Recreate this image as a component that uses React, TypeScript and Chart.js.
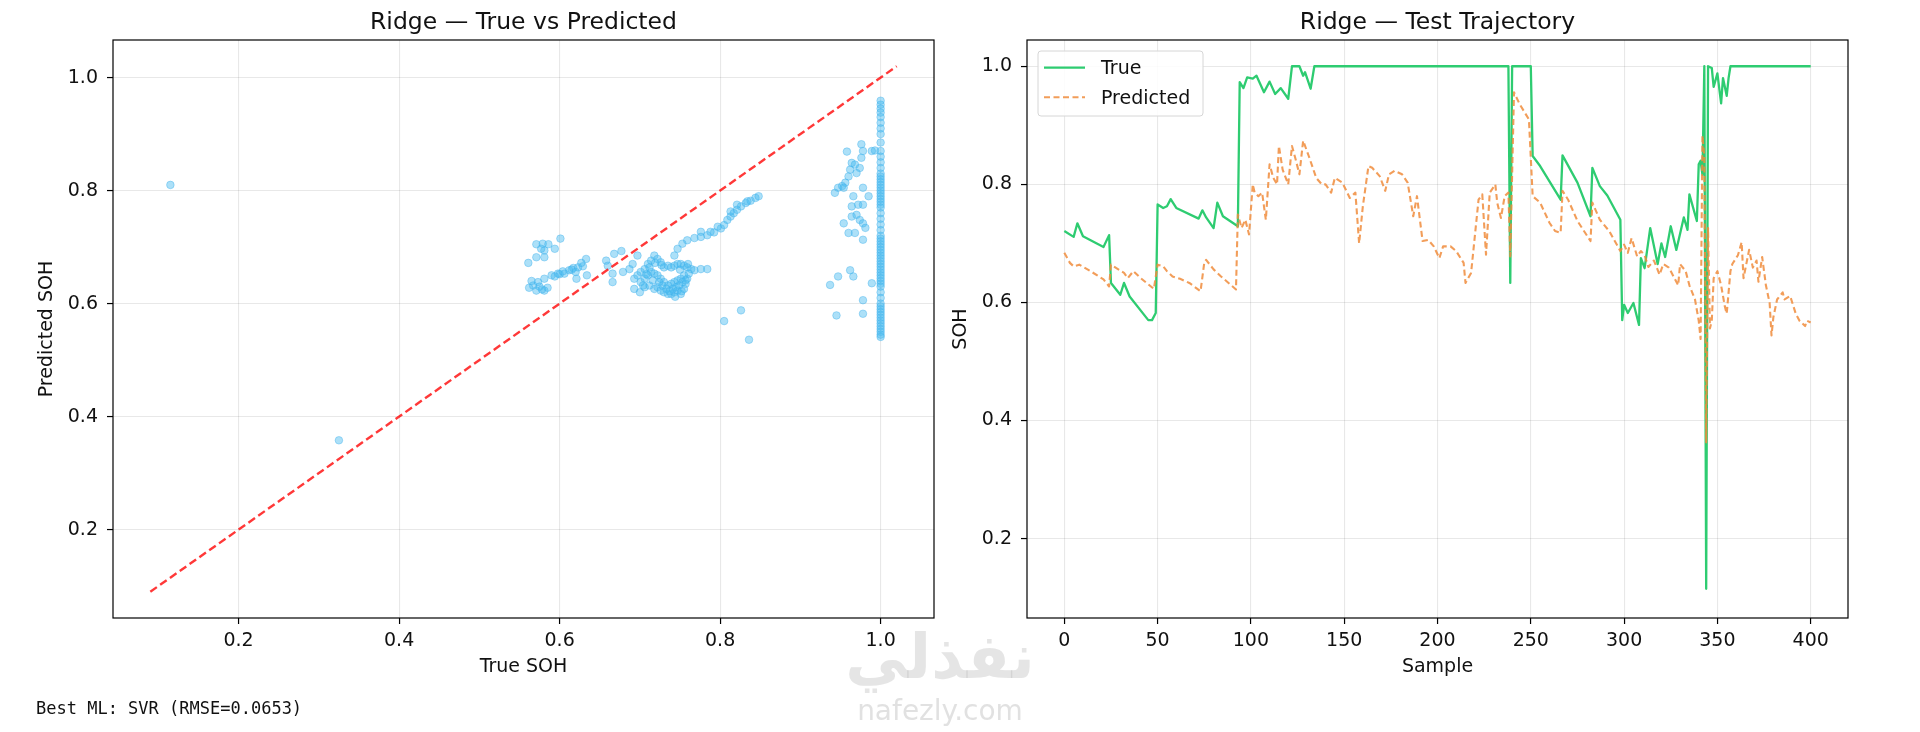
import React, { useEffect, useRef } from "react";
import { Chart, registerables } from "chart.js";

Chart.register(...registerables);

// ---------------- DATA ----------------
// Left panel: True SOH vs Predicted SOH (Ridge)
const scatterTrue: number[] = [
  0.115, 0.325,
  0.571, 0.579, 0.586, 0.594, 0.601, 0.581, 0.571, 0.581, 0.561, 0.577,
  0.567, 0.571, 0.581, 0.573, 0.581, 0.59, 0.598, 0.606, 0.612, 0.617, 0.623, 0.629, 0.633, 0.621, 0.634, 0.575, 0.585, 0.562, 0.6, 0.615,
  0.565, 0.578, 0.594, 0.604, 0.627, 0.62,
  0.658, 0.668, 0.677, 0.666, 0.666, 0.679, 0.687, 0.691, 0.697, 0.66,
  0.693, 0.693, 0.697, 0.701, 0.706, 0.71, 0.714, 0.718, 0.722, 0.726, 0.73, 0.735, 0.739, 0.743, 0.747, 0.751, 0.755, 0.759, 0.764, 0.768, 0.776, 0.784,
  0.706, 0.712, 0.718, 0.722, 0.726, 0.73, 0.735, 0.739, 0.743, 0.747, 0.751, 0.755, 0.757, 0.759, 0.761, 0.755, 0.751, 0.747, 0.743, 0.739, 0.735, 0.73, 0.726, 0.722, 0.718, 0.714, 0.71, 0.706, 0.701,
  0.741, 0.745, 0.749, 0.753, 0.757, 0.733, 0.737, 0.728, 0.724, 0.716, 0.708, 0.704, 0.75, 0.76, 0.727, 0.719, 0.712, 0.7, 0.744, 0.752,
  0.743, 0.747, 0.753, 0.759,
  0.768, 0.776, 0.784, 0.7925, 0.801, 0.805, 0.809, 0.813, 0.817, 0.821, 0.826, 0.832, 0.838, 0.844, 0.848, 0.776, 0.788, 0.797, 0.813, 0.821, 0.834,
  0.805, 0.826, 0.836,
  0.958, 0.964, 0.968, 0.962, 0.96, 0.956, 0.952, 0.947, 0.943, 0.954, 0.976, 0.978, 0.976, 0.974, 0.97, 0.989, 0.993, 0.978, 0.985, 0.966,
  0.964, 0.972, 0.978, 0.964, 0.97, 0.974, 0.978, 0.981, 0.954, 0.96, 0.968, 0.978, 0.962, 0.966, 0.947, 0.937, 0.989, 0.978, 0.945, 0.978,
  1.0, 1.0, 1.0, 1.0, 1.0, 1.0, 1.0, 1.0, 1.0, 1.0, 1.0, 1.0, 1.0, 1.0, 1.0, 1.0,
  1.0, 1.0, 1.0, 1.0, 1.0, 1.0, 1.0, 1.0, 1.0, 1.0, 1.0, 1.0, 1.0, 1.0, 1.0, 1.0,
  1.0, 1.0, 1.0, 1.0, 1.0, 1.0, 1.0, 1.0, 1.0, 1.0, 1.0, 1.0, 1.0, 1.0, 1.0, 1.0,
  1.0, 1.0, 1.0, 1.0, 1.0, 1.0, 1.0, 1.0, 1.0, 1.0, 1.0, 1.0, 1.0, 1.0, 1.0, 1.0,
];
const scatterPred: number[] = [
  0.81, 0.358,
  0.705, 0.706, 0.705, 0.697, 0.715, 0.694, 0.682, 0.682, 0.672, 0.697,
  0.632, 0.623, 0.623, 0.638, 0.644, 0.65, 0.653, 0.653, 0.659, 0.663, 0.664, 0.666, 0.679, 0.644, 0.65, 0.63, 0.628, 0.628, 0.652, 0.66,
  0.64, 0.625, 0.648, 0.657, 0.672, 0.656,
  0.676, 0.688, 0.693, 0.653, 0.638, 0.656, 0.661, 0.67, 0.685, 0.667,
  0.644, 0.626, 0.65, 0.656, 0.661, 0.67, 0.676, 0.685, 0.679, 0.673, 0.664, 0.667, 0.664, 0.667, 0.67, 0.67, 0.667, 0.664, 0.661, 0.659, 0.661, 0.661,
  0.629, 0.632, 0.626, 0.629, 0.623, 0.62, 0.617, 0.617, 0.62, 0.623, 0.617, 0.626, 0.635, 0.644, 0.653, 0.65, 0.644, 0.641, 0.638, 0.635, 0.632, 0.638, 0.644, 0.65, 0.653, 0.656, 0.65, 0.644, 0.638,
  0.626, 0.629, 0.632, 0.638, 0.641, 0.626, 0.622, 0.632, 0.638, 0.641, 0.652, 0.632, 0.66, 0.67, 0.668, 0.672, 0.664, 0.62, 0.612, 0.622,
  0.685, 0.697, 0.706, 0.712,
  0.716, 0.718, 0.721, 0.726, 0.733, 0.739, 0.748, 0.754, 0.76, 0.766, 0.772, 0.778, 0.782, 0.787, 0.79, 0.727, 0.727, 0.736, 0.763, 0.775, 0.781,
  0.569, 0.588, 0.536,
  0.869, 0.849, 0.846, 0.837, 0.825, 0.814, 0.808, 0.805, 0.796, 0.805, 0.882, 0.87, 0.858, 0.84, 0.831, 0.87, 0.871, 0.805, 0.79, 0.79,
  0.772, 0.775, 0.775, 0.754, 0.757, 0.748, 0.742, 0.734, 0.742, 0.725, 0.725, 0.713, 0.659, 0.648, 0.648, 0.633, 0.636, 0.606, 0.579, 0.582,
  0.959, 0.952, 0.945, 0.938, 0.93, 0.92, 0.91, 0.9, 0.885, 0.87, 0.86, 0.85, 0.84, 0.83, 0.825, 0.82,
  0.815, 0.81, 0.805, 0.8, 0.795, 0.79, 0.785, 0.78, 0.775, 0.77, 0.76, 0.75, 0.74, 0.73, 0.72, 0.715,
  0.71, 0.705, 0.7, 0.695, 0.69, 0.685, 0.68, 0.675, 0.67, 0.665, 0.66, 0.655, 0.65, 0.645, 0.64, 0.635,
  0.63, 0.62, 0.61, 0.6, 0.595, 0.59, 0.585, 0.58, 0.575, 0.57, 0.565, 0.56, 0.555, 0.55, 0.545, 0.541,
];
const diagEnds: number[] = [0.09, 1.02];
const leftTicks: number[] = [0.2, 0.4, 0.6, 0.8, 1.0];

// Right panel: test trajectory
const trueSample: number[] = [
  0, 5, 7, 10, 21, 24, 25, 30, 32, 35, 45, 47, 49, 50, 53, 55, 57, 60, 72, 74, 76, 80, 82, 85, 93,
  94, 96, 98, 101, 103, 105, 107, 110, 113, 116, 120, 122, 126, 128, 129, 132, 134, 238, 239, 240,
  250, 251, 255, 266, 267, 275, 282, 283, 287, 291, 298, 299, 300, 302, 305, 308, 309, 311, 314,
  318, 320, 322, 325, 328, 332, 334, 335, 339, 340, 341, 342, 343, 344, 345, 347, 348, 350, 352,
  353, 355, 356, 357, 400,
];
const trueSOH: number[] = [
  0.721, 0.711, 0.734, 0.712, 0.694, 0.714, 0.633, 0.613, 0.633, 0.61, 0.57, 0.57, 0.582, 0.766, 0.76, 0.763, 0.775, 0.76, 0.742, 0.756, 0.744, 0.726, 0.769, 0.746, 0.729,
  0.973, 0.963, 0.981, 0.979, 0.984, 0.97, 0.956, 0.974, 0.953, 0.963, 0.945, 1.0, 1.0, 0.984, 0.99, 0.962, 1.0, 1.0, 0.633, 1.0,
  1.0, 0.848, 0.831, 0.774, 0.849, 0.803, 0.746, 0.828, 0.797, 0.781, 0.74, 0.57, 0.596, 0.582, 0.599, 0.562, 0.675, 0.658, 0.726,
  0.665, 0.7, 0.677, 0.729, 0.689, 0.744, 0.723, 0.783, 0.738, 0.834, 0.84, 0.816, 1.0, 0.115, 1.0, 0.997, 0.965, 0.988, 0.937,
  0.98, 0.95, 0.98, 1.0, 1.0,
];
const predSample: number[] = [
  0, 3, 5, 8, 14, 21, 24, 25, 32, 34, 37, 41, 48, 50, 53, 55, 58, 62, 67, 73, 75, 76, 80, 84, 92,
  93, 95, 97, 99, 101, 102, 104, 106, 108, 110, 112, 114, 115, 117, 120, 122, 124, 126, 128, 131,
  135, 138, 140, 143, 145, 149, 153, 156, 158, 160, 163, 165, 169, 172, 174, 177, 181, 184, 187,
  189, 192, 195, 198, 201, 203, 207, 210, 214, 215, 218, 220, 222, 224, 226, 228, 231, 232, 234,
  236, 238, 239, 241, 244, 249, 251, 255, 260, 263, 266, 267, 270, 275, 282, 283, 287, 292, 295,
  298, 300, 302, 304, 307, 309, 311, 313, 316, 319, 321, 324, 327, 329, 330, 333, 335, 338, 340,
  341, 342, 343, 344, 345, 346, 347, 348, 350, 352, 354, 355, 357, 358, 361, 363, 364, 367, 369,
  371, 372, 374, 376, 378, 379, 380, 382, 385, 386, 389, 392, 394, 397, 398, 400,
];
const predSOH: number[] = [
  0.684, 0.667, 0.661, 0.664, 0.653, 0.639, 0.627, 0.664, 0.65, 0.641, 0.653, 0.641, 0.623, 0.664, 0.661, 0.653, 0.644, 0.64, 0.633, 0.619, 0.667, 0.672, 0.656, 0.644, 0.622,
  0.749, 0.726, 0.74, 0.715, 0.8, 0.786, 0.78, 0.786, 0.74, 0.834, 0.811, 0.8, 0.865, 0.825, 0.8, 0.865, 0.842, 0.817, 0.874, 0.848,
  0.811, 0.8, 0.8, 0.786, 0.811, 0.803, 0.777, 0.786, 0.7, 0.763, 0.831, 0.828, 0.814, 0.789, 0.817, 0.823, 0.817, 0.803, 0.746,
  0.78, 0.704, 0.706, 0.695, 0.675, 0.695, 0.695, 0.687, 0.667, 0.633, 0.65, 0.712, 0.774, 0.783, 0.681, 0.786, 0.8, 0.769, 0.743,
  0.78, 0.786, 0.678, 0.956, 0.936, 0.91, 0.78, 0.769, 0.735, 0.721, 0.718, 0.789, 0.774, 0.738, 0.704, 0.769, 0.74, 0.721, 0.704,
  0.687, 0.698, 0.684, 0.709, 0.678, 0.687, 0.68, 0.66, 0.671, 0.647, 0.665, 0.659, 0.641, 0.629, 0.665, 0.653, 0.629, 0.605, 0.569,
  0.538, 0.883, 0.847, 0.363, 0.726, 0.556, 0.569, 0.641, 0.653, 0.629, 0.593, 0.581, 0.653, 0.665, 0.68, 0.702, 0.641, 0.689, 0.659,
  0.671, 0.635, 0.677, 0.629, 0.599, 0.544, 0.575, 0.605, 0.617, 0.605, 0.611, 0.581, 0.569, 0.56, 0.569, 0.566,
];
const rightXTicks: number[] = [0, 50, 100, 150, 200, 250, 300, 350, 400];
const rightYTicks: number[] = [0.2, 0.4, 0.6, 0.8, 1.0];

// ---------------- STYLE ----------------
const FONT = '"DejaVu Sans", "Liberation Sans", sans-serif';
const TEXT = "#111111";
const GRID = "rgba(0,0,0,0.09)";
const GREEN = "#2ecc71";
const ORANGE = "rgba(240,140,60,0.85)";
const BLUE = "rgba(72,186,240,0.45)";
const BLUE_EDGE = "rgba(60,176,236,0.5)";
const RED = "rgba(255,0,0,0.78)";

const framePlugin = {
  id: "frame",
  afterDraw(chart: any) {
    const { ctx, chartArea: a } = chart;
    ctx.save();
    ctx.strokeStyle = "#000";
    ctx.lineWidth = 1.2;
    ctx.strokeRect(a.left, a.top, a.right - a.left, a.bottom - a.top);
    ctx.restore();
  },
};

// Title centred over the plot area (like matplotlib's axes title)
const axesTitlePlugin = {
  id: "axesTitle",
  afterDraw(chart: any, _args: any, opts: any) {
    const { ctx, chartArea: a } = chart;
    ctx.save();
    ctx.fillStyle = TEXT;
    ctx.font = `23.5px ${FONT}`;
    ctx.textAlign = "center";
    ctx.textBaseline = "middle";
    ctx.fillText(opts.text, (a.left + a.right) / 2, 22.4);
    ctx.restore();
  },
};

const legendPlugin = {
  id: "boxLegend",
  afterDraw(chart: any) {
    const { ctx, chartArea: a } = chart;
    const order = [1, 0];
    const x = a.left + 11;
    const y = a.top + 11;
    const w = 165;
    const h = 65;
    ctx.save();
    ctx.beginPath();
    const r = 3;
    ctx.moveTo(x + r, y);
    ctx.lineTo(x + w - r, y);
    ctx.quadraticCurveTo(x + w, y, x + w, y + r);
    ctx.lineTo(x + w, y + h - r);
    ctx.quadraticCurveTo(x + w, y + h, x + w - r, y + h);
    ctx.lineTo(x + r, y + h);
    ctx.quadraticCurveTo(x, y + h, x, y + h - r);
    ctx.lineTo(x, y + r);
    ctx.quadraticCurveTo(x, y, x + r, y);
    ctx.closePath();
    ctx.fillStyle = "rgba(255,255,255,0.85)";
    ctx.fill();
    ctx.strokeStyle = "#d6d6d6";
    ctx.lineWidth = 1;
    ctx.stroke();
    order.forEach((di, i) => {
      const ds = chart.data.datasets[di];
      const ry = a.top + 27.7 + i * 29.6;
      ctx.beginPath();
      ctx.setLineDash(ds.borderDash || []);
      ctx.strokeStyle = ds.borderColor;
      ctx.lineWidth = ds.borderWidth;
      ctx.moveTo(a.left + 17, ry);
      ctx.lineTo(a.left + 58, ry);
      ctx.stroke();
      ctx.setLineDash([]);
      ctx.fillStyle = TEXT;
      ctx.font = `19px ${FONT}`;
      ctx.textBaseline = "middle";
      ctx.textAlign = "left";
      ctx.fillText(ds.label, a.left + 74, ry + 1.5);
    });
    ctx.restore();
  },
};

function axis(o: {
  min: number;
  max: number;
  ticks: number[];
  title: string;
  fmt: (v: number) => string;
  width?: number;
  height?: number;
  titlePad: any;
  tickPad: number;
}) {
  return {
    type: "linear",
    min: o.min,
    max: o.max,
    afterBuildTicks: (s: any) => {
      s.ticks = o.ticks.map((v) => ({ value: v }));
    },
    afterFit: (s: any) => {
      if (o.width !== undefined) s.width = o.width;
      if (o.height !== undefined) s.height = o.height;
    },
    border: { display: false },
    grid: {
      color: GRID,
      lineWidth: 1.1,
      drawTicks: true,
      tickLength: 6,
      tickColor: "#000",
      tickWidth: 1.2,
    },
    ticks: {
      font: { family: FONT, size: 19 },
      color: TEXT,
      padding: o.tickPad,
      autoSkip: false,
      maxRotation: 0,
      callback: (v: any) => o.fmt(Number(v)),
    },
    title: {
      display: true,
      text: o.title,
      font: { family: FONT, size: 19 },
      color: TEXT,
      padding: o.titlePad,
    },
  };
}

function LeftChart() {
  const ref = useRef<HTMLCanvasElement | null>(null);
  useEffect(() => {
    if (!ref.current) return;
    const points = scatterTrue.map((t, i) => ({ x: t, y: scatterPred[i] }));
    const diag = diagEnds.map((v) => ({ x: v, y: v }));
    const chart = new Chart(ref.current, {
      type: "scatter",
      data: {
        datasets: [
          {
            type: "line",
            label: "Ideal",
            data: diag,
            borderColor: RED,
            borderWidth: 2.4,
            borderDash: [8, 4],
            pointRadius: 0,
            showLine: true,
            fill: false,
          } as any,
          {
            type: "scatter",
            label: "Samples",
            data: points,
            backgroundColor: BLUE,
            borderColor: BLUE_EDGE,
            borderWidth: 0.8,
            pointRadius: 3.8,
          },
        ],
      },
      options: {
        responsive: false,
        devicePixelRatio: 1,
        animation: false,
        layout: { padding: { left: 0, right: 26, top: 40, bottom: 18 } },
        plugins: {
          legend: { display: false },
          tooltip: { enabled: false },
          title: { display: false },
          axesTitle: { text: "Ridge \u2014 True vs Predicted" },
        } as any,
        scales: {
          x: axis({
            min: 0.0435,
            max: 1.0665,
            ticks: leftTicks,
            title: "True SOH",
            fmt: (v) => v.toFixed(1),
            height: 64,
            titlePad: { top: 0, bottom: 3.6 },
            tickPad: 5.5,
          }) as any,
          y: axis({
            min: 0.0435,
            max: 1.0665,
            ticks: leftTicks,
            title: "Predicted SOH",
            fmt: (v) => v.toFixed(1),
            width: 113,
            titlePad: { top: 35.6, bottom: 0 },
            tickPad: 9,
          }) as any,
        },
      },
      plugins: [framePlugin, axesTitlePlugin],
    });
    return () => chart.destroy();
  }, []);
  return (
    <canvas
      ref={ref}
      width={960}
      height={700}
      style={{ position: "absolute", left: 0, top: 0 }}
    />
  );
}

function RightChart() {
  const ref = useRef<HTMLCanvasElement | null>(null);
  useEffect(() => {
    if (!ref.current) return;
    const trueData = trueSample.map((s, i) => ({ x: s, y: trueSOH[i] }));
    const predData = predSample.map((s, i) => ({ x: s, y: predSOH[i] }));
    const chart = new Chart(ref.current, {
      type: "line",
      data: {
        datasets: [
          {
            label: "Predicted",
            data: predData,
            borderColor: ORANGE,
            borderWidth: 2.1,
            borderDash: [6, 3.5],
            pointRadius: 0,
            tension: 0,
            fill: false,
            borderJoinStyle: "round",
          },
          {
            label: "True",
            data: trueData,
            borderColor: GREEN,
            borderWidth: 2.3,
            pointRadius: 0,
            tension: 0,
            fill: false,
            borderJoinStyle: "round",
          },
        ],
      },
      options: {
        responsive: false,
        devicePixelRatio: 1,
        animation: false,
        parsing: false as any,
        layout: { padding: { left: 0, right: 72, top: 40, bottom: 18 } },
        plugins: {
          legend: { display: false },
          tooltip: { enabled: false },
          title: { display: false },
          axesTitle: { text: "Ridge \u2014 Test Trajectory" },
        } as any,
        scales: {
          x: axis({
            min: -20,
            max: 420,
            ticks: rightXTicks,
            title: "Sample",
            fmt: (v) => String(Math.round(v)),
            height: 64,
            titlePad: { top: 0, bottom: 3.6 },
            tickPad: 5.5,
          }) as any,
          y: axis({
            min: 0.0655,
            max: 1.0445,
            ticks: rightYTicks,
            title: "SOH",
            fmt: (v) => v.toFixed(1),
            width: 87,
            titlePad: { top: 9.6, bottom: 0 },
            tickPad: 9,
          }) as any,
        },
      },
      plugins: [framePlugin, axesTitlePlugin, legendPlugin],
    });
    return () => chart.destroy();
  }, []);
  return (
    <canvas
      ref={ref}
      width={980}
      height={700}
      style={{ position: "absolute", left: 940, top: 0 }}
    />
  );
}

export default function App() {
  return (
    <div
      style={{
        position: "fixed",
        left: 0,
        top: 0,
        width: 1920,
        height: 732,
        background: "#ffffff",
        overflow: "hidden",
      }}
    >
      <LeftChart />
      <RightChart />
      <div
        style={{
          position: "absolute",
          left: 36,
          top: 698,
          fontFamily: '"DejaVu Sans Mono", monospace',
          fontSize: 17,
          lineHeight: "20px",
          color: "#111",
          whiteSpace: "pre",
        }}
      >
        Best ML: SVR (RMSE=0.0653)
      </div>
      <div
        style={{
          position: "absolute",
          left: 845,
          top: 620,
          width: 190,
          textAlign: "center",
          fontFamily: '"DejaVu Sans", sans-serif',
          fontWeight: "bold",
          fontSize: 62,
          lineHeight: "74px",
          color: "rgba(180,180,180,0.35)",
          direction: "rtl",
          pointerEvents: "none",
        }}
      >
        نفذلي
      </div>
      <div
        style={{
          position: "absolute",
          left: 845,
          top: 694,
          width: 190,
          textAlign: "center",
          fontFamily: '"DejaVu Sans", sans-serif',
          fontSize: 28,
          lineHeight: "34px",
          color: "rgba(180,180,180,0.4)",
          pointerEvents: "none",
        }}
      >
        nafezly.com
      </div>
    </div>
  );
}
